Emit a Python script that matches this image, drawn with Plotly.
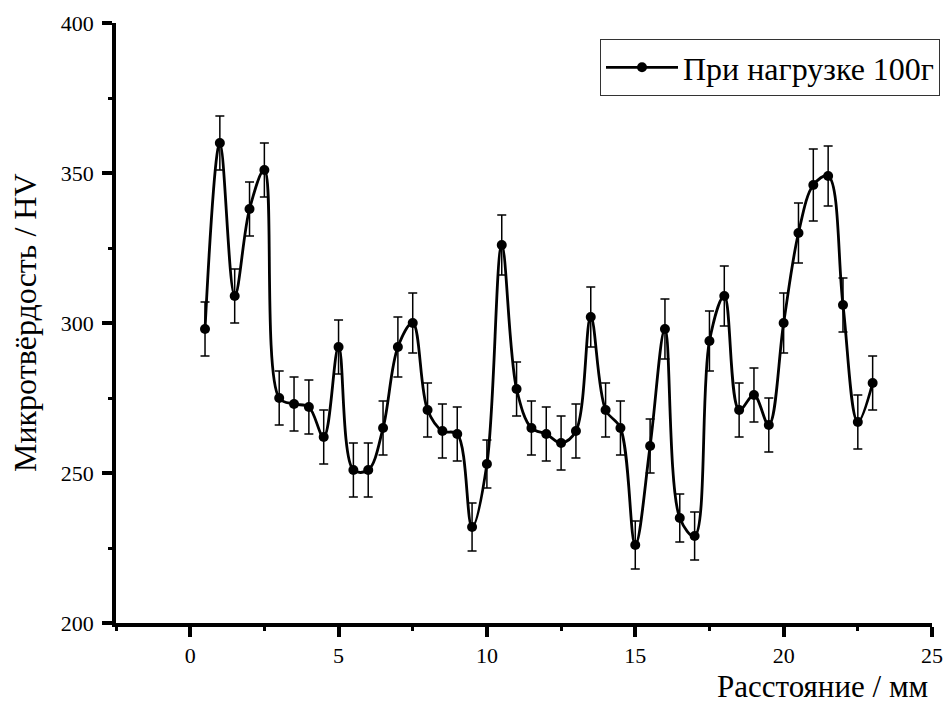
import plotly.graph_objects as go

distance_mm = [0.5, 1.0, 1.5, 2.0, 2.5, 3.0, 3.5, 4.0, 4.5, 5.0, 5.5, 6.0, 6.5, 7.0, 7.5,
               8.0, 8.5, 9.0, 9.5, 10.0, 10.5, 11.0, 11.5, 12.0, 12.5, 13.0, 13.5, 14.0,
               14.5, 15.0, 15.5, 16.0, 16.5, 17.0, 17.5, 18.0, 18.5, 19.0, 19.5, 20.0,
               20.5, 21.0, 21.5, 22.0, 22.5, 23.0]
hardness_hv = [298, 360, 309, 338, 351, 275, 273, 272, 262, 292, 251, 251, 265, 292, 300,
               271, 264, 263, 232, 253, 326, 278, 265, 263, 260, 264, 302, 271,
               265, 226, 259, 298, 235, 229, 294, 309, 271, 276, 266, 300,
               330, 346, 349, 306, 267, 280]
error_hv = [9, 9, 9, 9, 9, 9, 9, 9, 9, 9, 9, 9, 9, 10, 10,
            9, 9, 9, 8, 8, 10, 9, 9, 9, 9, 9, 10, 9,
            9, 8, 9, 10, 8, 8, 10, 10, 9, 9, 9, 10,
            10, 12, 10, 9, 9, 9]

series_name = "При нагрузке 100г"
x_title = "Расстояние / мм"
y_title = "Микротвёрдость / HV"

FONT = "Liberation Serif, Times New Roman, Times, DejaVu Serif, serif"

fig = go.Figure()
fig.add_trace(go.Scatter(
    x=distance_mm, y=hardness_hv, name=series_name,
    mode="lines+markers",
    line=dict(color="black", width=2.8, shape="spline", smoothing=1.0),
    marker=dict(color="black", size=10, symbol="circle"),
    error_y=dict(type="data", array=error_hv, visible=True,
                 color="black", thickness=1.5, width=4.5),
))

fig.update_layout(
    width=944, height=707, autosize=False,
    margin=dict(l=116, r=12, t=23, b=84, autoexpand=False),
    paper_bgcolor="white", plot_bgcolor="white",
    font=dict(family=FONT, color="black"),
    showlegend=True,
    legend=dict(
        xref="container", yref="container",
        x=940 / 944, xanchor="right", y=1 - 39 / 707, yanchor="top",
        bordercolor="#333333", borderwidth=1, bgcolor="white",
        font=dict(family=FONT, size=32, color="black"),
        itemwidth=72,
    ),
    xaxis=dict(
        range=[-2.5, 25], showgrid=False, zeroline=False,
        showline=True, linecolor="black", linewidth=3.5,
        ticks="outside", ticklen=10, tickwidth=3.5, tickcolor="black",
        tick0=0, dtick=5,
        tickfont=dict(family=FONT, size=22, color="black"),
        minor=dict(ticks="outside", ticklen=4, tickwidth=3, tickcolor="black", dtick=2.5, tick0=0, showgrid=False),
    ),
    yaxis=dict(
        range=[200, 400], showgrid=False, zeroline=False,
        showline=True, linecolor="black", linewidth=3.5,
        ticks="outside", ticklen=10, tickwidth=3.5, tickcolor="black",
        tick0=200, dtick=50,
        tickfont=dict(family=FONT, size=22, color="black"),
        ticklabelstandoff=4,
        minor=dict(ticks="outside", ticklen=4, tickwidth=3, tickcolor="black", dtick=25, tick0=200, showgrid=False),
    ),
    annotations=[
        dict(text=x_title, xref="paper", yref="paper",
             x=(930 - 116) / 816, xanchor="right",
             y=-(686 - 623) / 600, yanchor="middle",
             showarrow=False, font=dict(family=FONT, size=31, color="black")),
        dict(text=y_title, xref="paper", yref="paper",
             x=-(116 - 25) / 816, xanchor="center",
             y=(623 - 323) / 600, yanchor="middle", textangle=-90,
             showarrow=False, font=dict(family=FONT, size=32, color="black")),
    ],
)

fig.write_html(
    "out.html",
    config={"displayModeBar": False, "responsive": False},
    post_script=("document.body.style.margin='0';document.body.style.overflow='hidden';"
                 "var gd=document.getElementById('{plot_id}');"
                 "Plotly.relayout(gd,{width:944,height:707});"),
)
